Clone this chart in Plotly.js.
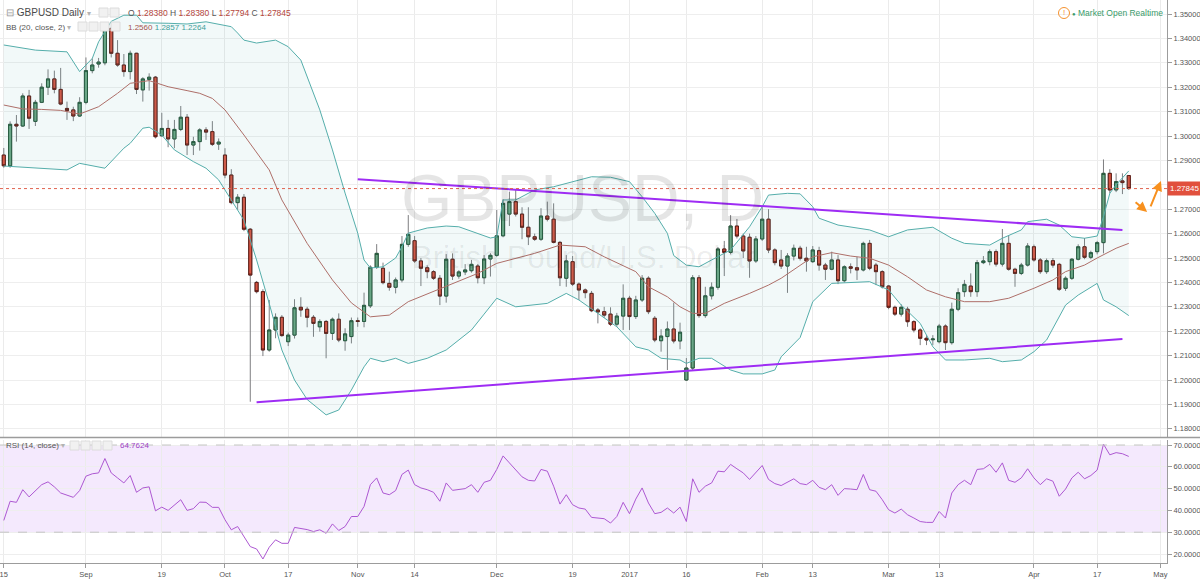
<!DOCTYPE html>
<html><head><meta charset="utf-8">
<script src="https://cdn.plot.ly/plotly-3.0.1.min.js"></script>
<style>html,body{margin:0;padding:0;background:#fff;overflow:hidden}#chart{width:1200px;height:580px}</style>
</head><body><div id="chart"></div>
<script>
// ---------- DATA ----------
const open = [
1.2922,1.2878,1.3048,1.3041,1.3164,1.3060,1.3138,1.3200,1.3234,1.3191,
1.3113,1.3107,1.3082,1.3138,1.3268,1.3295,1.3300,1.3441,1.3339,1.3291,
1.3264,1.3339,1.3189,1.3232,1.3241,1.3001,1.3031,1.2988,1.3027,1.3077,
1.2963,1.2977,1.3025,1.3018,1.2967,1.2922,1.2840,1.2727,1.2749,1.2618,
1.2400,1.2362,1.2123,1.2205,1.2257,1.2157,1.2184,1.2298,1.2290,1.2257,
1.2218,1.2240,1.2191,1.2249,1.2161,1.2178,1.2243,1.2240,1.2304,1.2462,
1.2458,1.2396,1.2380,1.2410,1.2556,1.2571,1.2488,1.2460,1.2444,1.2417,
1.2344,1.2495,1.2426,1.2443,1.2448,1.2467,1.2419,1.2496,1.2511,1.2591,
1.2680,1.2731,1.2680,1.2626,1.2587,1.2577,1.2672,1.2659,1.2564,1.2417,
1.2485,1.2393,1.2369,1.2355,1.2287,1.2280,1.2270,1.2229,1.2262,1.2335,
1.2260,1.2328,1.2417,1.2253,1.2161,1.2178,1.2209,1.2160,1.2000,1.2049,
1.2419,1.2264,1.2345,1.2380,1.2537,1.2523,1.2631,1.2590,1.2585,1.2488,
1.2578,1.2659,1.2533,1.2492,1.2467,1.2508,1.2540,1.2499,1.2485,1.2530,
1.2471,1.2454,1.2492,1.2407,1.2464,1.2460,1.2451,1.2560,1.2471,1.2444,
1.2385,1.2298,1.2270,1.2290,1.2239,1.2205,1.2171,1.2165,1.2157,1.2221,
1.2153,1.2290,1.2362,1.2385,1.2362,1.2481,1.2485,1.2526,1.2475,1.2560,
1.2454,1.2437,1.2471,1.2546,1.2492,1.2444,1.2489,1.2474,1.2376,1.2417,
1.2495,1.2546,1.2503,1.2526,1.2563,1.2847,1.2779,1.2816,1.28380];
const high = [
1.2951,1.3060,1.3086,1.3175,1.3189,1.3148,1.3216,1.3273,1.3268,1.3279,
1.3141,1.3120,1.3159,1.3322,1.3318,1.3320,1.3450,1.3445,1.3393,1.3336,
1.3350,1.3341,1.3241,1.3257,1.3246,1.3095,1.3066,1.3066,1.3123,1.3090,
1.2997,1.3032,1.3036,1.3061,1.2990,1.2950,1.2864,1.2762,1.2762,1.2623,
1.2406,1.2372,1.2328,1.2273,1.2266,1.2194,1.2331,1.2339,1.2300,1.2266,
1.2249,1.2246,1.2256,1.2273,1.2212,1.2256,1.2256,1.2358,1.2470,1.2557,
1.2481,1.2444,1.2420,1.2590,1.2676,1.2590,1.2500,1.2470,1.2450,1.2430,
1.2516,1.2519,1.2450,1.2475,1.2492,1.2475,1.2512,1.2520,1.2697,1.2741,
1.2772,1.2779,1.2708,1.2708,1.2600,1.2704,1.2731,1.2724,1.2570,1.2512,
1.2508,1.2400,1.2375,1.2365,1.2295,1.2300,1.2298,1.2275,1.2392,1.2345,
1.2345,1.2430,1.2425,1.2262,1.2208,1.2240,1.2317,1.2235,1.2090,1.2430,
1.2430,1.2382,1.2400,1.2545,1.2570,1.2676,1.2660,1.2600,1.2600,1.2590,
1.2708,1.2700,1.2540,1.2533,1.2520,1.2555,1.2550,1.2546,1.2549,1.2546,
1.2480,1.2526,1.2512,1.2470,1.2478,1.2505,1.2567,1.2574,1.2480,1.2450,
1.2389,1.2305,1.2310,1.2300,1.2245,1.2212,1.2184,1.2184,1.2230,1.2228,
1.2317,1.2376,1.2410,1.2437,1.2492,1.2508,1.2535,1.2535,1.2619,1.2594,
1.2460,1.2480,1.2561,1.2555,1.2500,1.2498,1.2500,1.2480,1.2425,1.2500,
1.2556,1.2582,1.2530,1.2570,1.2904,1.2864,1.2847,1.2847,1.28380];
const low = [
1.2870,1.2870,1.2977,1.3037,1.3029,1.3041,1.3135,1.3168,1.3175,1.3126,
1.3066,1.3061,1.3078,1.3130,1.3257,1.3280,1.3290,1.3322,1.3284,1.3243,
1.3232,1.3172,1.3141,1.3186,1.2990,1.2997,1.2954,1.2950,1.3020,1.2922,
1.2922,1.2940,1.2984,1.2959,1.2943,1.2827,1.2720,1.2697,1.2610,1.1911,
1.2355,1.2098,1.2116,1.2171,1.2177,1.2139,1.2170,1.2259,1.2216,1.2177,
1.2198,1.2089,1.2164,1.2155,1.2120,1.2150,1.2218,1.2216,1.2295,1.2455,
1.2392,1.2366,1.2355,1.2400,1.2546,1.2480,1.2385,1.2417,1.2410,1.2307,
1.2317,1.2410,1.2415,1.2430,1.2440,1.2396,1.2393,1.2424,1.2505,1.2585,
1.2631,1.2670,1.2577,1.2553,1.2570,1.2570,1.2650,1.2560,1.2385,1.2382,
1.2385,1.2328,1.2335,1.2278,1.2232,1.2255,1.2221,1.2218,1.2205,1.2205,
1.2250,1.2320,1.2270,1.2155,1.2116,1.2041,1.2150,1.2126,1.1996,1.2040,
1.2255,1.2255,1.2330,1.2370,1.2426,1.2515,1.2580,1.2500,1.2419,1.2480,
1.2570,1.2520,1.2470,1.2455,1.2357,1.2490,1.2490,1.2444,1.2480,1.2448,
1.2410,1.2450,1.2393,1.2400,1.2437,1.2410,1.2445,1.2450,1.2389,1.2375,
1.2290,1.2262,1.2260,1.2218,1.2195,1.2143,1.2143,1.2143,1.2150,1.2123,
1.2145,1.2282,1.2341,1.2341,1.2341,1.2475,1.2470,1.2465,1.2465,1.2448,
1.2382,1.2430,1.2465,1.2485,1.2435,1.2435,1.2460,1.2365,1.2365,1.2410,
1.2490,1.2495,1.2495,1.2515,1.2519,1.2765,1.2770,1.2762,1.27794];
const close = [
1.2878,1.3048,1.3041,1.3164,1.3073,1.3138,1.3200,1.3234,1.3191,1.3131,
1.3104,1.3082,1.3138,1.3268,1.3291,1.3303,1.3441,1.3339,1.3291,1.3264,
1.3339,1.3191,1.3234,1.3241,1.2997,1.3031,1.2988,1.3027,1.3077,1.2963,
1.2977,1.3025,1.3016,1.2966,1.2975,1.2840,1.2727,1.2749,1.2618,1.2430,
1.2362,1.2123,1.2205,1.2257,1.2182,1.2184,1.2296,1.2287,1.2257,1.2232,
1.2240,1.2191,1.2249,1.2164,1.2189,1.2243,1.2240,1.2306,1.2462,1.2519,
1.2399,1.2380,1.2410,1.2556,1.2597,1.2488,1.2458,1.2444,1.2417,1.2344,
1.2495,1.2426,1.2443,1.2451,1.2474,1.2419,1.2496,1.2511,1.2591,1.2724,
1.2731,1.2680,1.2626,1.2587,1.2577,1.2672,1.2659,1.2564,1.2419,1.2488,
1.2393,1.2369,1.2358,1.2284,1.2279,1.2266,1.2229,1.2262,1.2335,1.2260,
1.2328,1.2417,1.2280,1.2164,1.2180,1.2209,1.2160,1.2196,1.2049,1.2419,
1.2264,1.2345,1.2380,1.2537,1.2523,1.2631,1.2590,1.2529,1.2488,1.2578,
1.2659,1.2533,1.2481,1.2467,1.2508,1.2540,1.2499,1.2488,1.2533,1.2471,
1.2454,1.2492,1.2407,1.2464,1.2458,1.2451,1.2560,1.2458,1.2444,1.2382,
1.2298,1.2270,1.2298,1.2239,1.2205,1.2171,1.2164,1.2168,1.2221,1.2153,
1.2290,1.2358,1.2392,1.2362,1.2481,1.2488,1.2526,1.2475,1.2560,1.2454,
1.2437,1.2471,1.2549,1.2492,1.2444,1.2489,1.2471,1.2372,1.2417,1.2495,
1.2546,1.2503,1.2522,1.2563,1.2847,1.2779,1.2813,1.2809,1.27845];

// Bollinger Bands (20, close, 2), read at bar numbers
const bbBasisBars = [0,3,6,9,12,15,18,20,23,26,29,31,33,35,38,40,42,44,48,52,55,58,61,64,68,71,75,78,84,88,92,95,100,102,105,107,109,111,114,118,121,123,126,128,131,134,137,140,143,146,149,152,156,159,163,166,168,171,173,176,178];
const bbBasisVals = [1.3127,1.3111,1.3109,1.3105,1.3090,1.3120,1.3175,1.3216,1.3227,1.3202,1.3186,1.3175,1.3154,1.3107,1.3004,1.2930,1.2861,1.2738,1.2560,1.2410,1.2316,1.2259,1.2266,1.2321,1.2362,1.2396,1.2437,1.2478,1.2519,1.2553,1.2546,1.2505,1.2444,1.2382,1.2341,1.2300,1.2273,1.2273,1.2314,1.2355,1.2389,1.2417,1.2471,1.2505,1.2522,1.2508,1.2499,1.2471,1.2423,1.2369,1.2341,1.2321,1.2321,1.2335,1.2376,1.2410,1.2444,1.2471,1.2500,1.2540,1.2560];
const bbUpperBars = [0,5,10,12,14,15,17,19,21,22,26,29,32,36,37,38,40,43,45,47,50,52,54,56,57,58,60,62,63,64,67,70,72,75,77,78,79,81,84,87,89,93,96,99,101,103,105,106,108,110,112,115,118,119,120,121,124,126,128,129,132,137,140,143,147,150,152,156,158,161,162,165,167,169,171,173,174,175,176,178];
const bbUpperVals = [1.3373,1.3352,1.3345,1.3264,1.3318,1.3386,1.3470,1.3495,1.3495,1.3464,1.3462,1.3459,1.3468,1.3448,1.3422,1.3393,1.3381,1.3393,1.3366,1.3311,1.3107,1.2943,1.2766,1.2602,1.2492,1.2459,1.2464,1.2500,1.2546,1.2602,1.2623,1.2631,1.2628,1.2602,1.2582,1.2587,1.2738,1.2738,1.2779,1.2792,1.2806,1.2833,1.2831,1.2813,1.2751,1.2683,1.2601,1.2510,1.2471,1.2464,1.2492,1.2533,1.2628,1.2670,1.2710,1.2758,1.2765,1.2763,1.2710,1.2663,1.2635,1.2615,1.2587,1.2615,1.2626,1.2581,1.2560,1.2553,1.2581,1.2615,1.2649,1.2659,1.2635,1.2587,1.2581,1.2590,1.2669,1.2765,1.2800,1.2857];
const bbLowerBars = [0,5,10,12,16,19,20,22,23,25,27,30,32,34,36,38,40,42,44,46,48,51,53,55,57,58,60,62,64,67,70,72,74,76,78,81,84,86,89,91,94,97,100,102,104,107,108,110,112,115,117,120,122,123,126,128,131,137,140,142,145,147,149,152,156,158,161,163,165,168,170,173,174,176,178];
const bbLowerVals = [1.2877,1.2868,1.2861,1.2888,1.2868,1.2950,1.2970,1.3032,1.3036,1.3004,1.2943,1.2895,1.2868,1.2820,1.2738,1.2655,1.2492,1.2314,1.2123,1.2000,1.1920,1.1857,1.1877,1.1959,1.2054,1.2089,1.2075,1.2089,1.2068,1.2089,1.2123,1.2164,1.2205,1.2270,1.2335,1.2300,1.2307,1.2314,1.2355,1.2328,1.2273,1.2218,1.2136,1.2123,1.2089,1.2082,1.2068,1.2089,1.2089,1.2041,1.2025,1.2025,1.2041,1.2095,1.2174,1.2321,1.2396,1.2403,1.2369,1.2307,1.2232,1.2136,1.2082,1.2082,1.2089,1.2075,1.2082,1.2116,1.2164,1.2307,1.2348,1.2396,1.2328,1.2300,1.2264];

// RSI (14, close), one value per bar (null where unread)
const rsi = [
35.4,44.2,43.7,49.5,46.2,null,51.8,53.1,50.8,48.0,
null,46.0,49.1,55.7,56.8,57.2,63.8,57.2,54.9,52.6,
56.0,48.3,50.3,50.8,39.8,41.5,40.0,null,44.9,40.0,
40.8,43.8,43.7,41.4,41.4,35.7,31.1,32.6,28.0,23.4,
22.3,17.7,23.1,26.5,24.9,24.9,32.2,31.8,31.2,30.3,
31.1,29.5,33.8,30.8,32.6,37.2,37.2,41.8,51.8,54.9,
48.0,47.2,49.1,56.5,58.5,51.8,50.3,49.5,48.3,44.2,
52.6,49.2,49.5,50.0,51.8,48.3,52.9,53.8,58.8,65.0,
61.8,58.8,55.4,53.8,53.5,58.8,58.0,51.1,42.9,47.2,
42.6,41.1,40.6,36.8,36.6,36.2,34.2,37.2,43.7,38.5,
45.2,50.3,43.4,38.5,39.1,41.1,38.8,41.5,34.9,54.5,
48.3,51.1,52.6,58.0,57.7,61.1,59.1,57.2,54.2,57.5,
60.6,54.2,52.3,51.4,52.9,54.5,52.3,51.8,53.8,50.6,
49.5,51.8,46.9,50.0,49.8,49.5,56.5,49.5,48.8,44.9,
40.3,38.8,40.6,38.0,36.5,34.9,34.5,34.5,39.5,36.5,
48.0,51.8,53.8,51.8,58.8,59.1,61.1,57.5,61.8,53.8,
52.9,54.9,59.1,54.9,51.8,54.5,53.4,46.5,49.8,54.9,
57.5,54.5,56.0,58.5,70.4,65.5,66.5,66.0,64.7624];

// Hand-drawn trend lines and arrows (bar number, price)
const trendUpperBars = [56, 177], trendUpperPrices = [1.2823, 1.2615];
const trendLowerBars = [40, 177], trendLowerPrices = [1.1909, 1.2168];
const arrowBars = [180.9, 183.1], arrowPrices = [1.2689, 1.2816];

// axis labels
const tickDates = ['2016-08-15','2016-09-01','2016-09-19','2016-10-03','2016-10-17','2016-11-01','2016-11-14','2016-12-01','2016-12-19','2017-01-03','2017-01-16','2017-02-01','2017-02-13','2017-03-01','2017-03-13','2017-04-03','2017-04-17','2017-05-01'];
const tickText = ['15','Sep','19','Oct','17','Nov','14','Dec','19','2017','16','Feb','13','Mar','13','Apr','17','May'];
const priceTicks = [1.18,1.19,1.20,1.21,1.22,1.23,1.24,1.25,1.26,1.27,1.28,1.29,1.30,1.31,1.32,1.33,1.34,1.35];
const rsiTicks = [20, 30, 40, 50, 60, 70];

// ---------- BUILD ----------
function tradingDays(start, end, holidays) {
  const out = []; const d = new Date(start + 'T00:00:00Z'); const e = new Date(end + 'T00:00:00Z');
  while (d <= e) {
    const w = d.getUTCDay(); const s = d.toISOString().slice(0, 10);
    if (w !== 0 && w !== 6 && !holidays.includes(s)) out.push(s);
    d.setUTCDate(d.getUTCDate() + 1);
  }
  return out;
}
const dates = tradingDays('2016-08-15', '2017-05-05', ['2016-12-26', '2017-01-02']);
const bars = close.map((_, i) => i);
const tickvals = tickDates.map(d => dates.indexOf(d));
const bodyHigh = open.map((o, i) => Math.max(o, close[i]));
const bodyLow = open.map((o, i) => Math.min(o, close[i]));
const last = close.length - 1;
// the last-price tag covers the axis label next to it
const priceText = priceTicks.map(v => Math.abs(v - close[last]) < 0.004 ? '' : v.toFixed(5));

const FONT = 'Liberation Sans, Arial, sans-serif';
const PW = 1167, PH = 563;
const px = v => v / PW, py = v => (PH - v) / PH;

const UPF = '#6ba583', DNF = '#d75442';
const traces = [
  { type: 'candlestick', x: bars, open: open, high: high, low: low, close: close,
    increasing: { line: { color: '#7e7e80', width: 1 }, fillcolor: UPF },
    decreasing: { line: { color: '#7e7e80', width: 1 }, fillcolor: DNF },
    whiskerwidth: 0, hoverinfo: 'skip', showlegend: false },
  { type: 'candlestick', x: bars, open: open, high: bodyHigh, low: bodyLow, close: close,
    increasing: { line: { color: '#225437', width: 1 }, fillcolor: UPF },
    decreasing: { line: { color: '#5b1a13', width: 1 }, fillcolor: DNF },
    whiskerwidth: 0, hoverinfo: 'skip', showlegend: false },
  { type: 'scatter', mode: 'lines', x: bbLowerBars, y: bbLowerVals, line: { color: '#55aeab', width: 1 }, hoverinfo: 'skip', showlegend: false },
  { type: 'scatter', mode: 'lines', x: bbUpperBars, y: bbUpperVals, line: { color: '#55aeab', width: 1 }, fill: 'tonexty', fillcolor: 'rgba(86,176,173,0.08)', hoverinfo: 'skip', showlegend: false },
  { type: 'scatter', mode: 'lines', x: bbBasisBars, y: bbBasisVals, line: { color: '#ae6f69', width: 1 }, hoverinfo: 'skip', showlegend: false },
  { type: 'scatter', mode: 'lines', x: trendUpperBars, y: trendUpperPrices, line: { color: '#9e2cf4', width: 2 }, hoverinfo: 'skip', showlegend: false },
  { type: 'scatter', mode: 'lines', x: trendLowerBars, y: trendLowerPrices, line: { color: '#9e2cf4', width: 2 }, hoverinfo: 'skip', showlegend: false },
  { type: 'scatter', mode: 'lines', x: bars, y: rsi, xaxis: 'x', yaxis: 'y2', connectgaps: true, line: { color: '#ad58d2', width: 1 }, hoverinfo: 'skip', showlegend: false }
];

const iconBox = (x0, y0) => ({ type: 'rect', xref: 'paper', yref: 'paper', x0: px(x0), x1: px(x0 + 9), y0: py(y0 + 9), y1: py(y0), fillcolor: '#f1f1f1', line: { color: '#dcdcdc', width: 1 }, layer: 'above' });

const shapes = [
  { type: 'rect', xref: 'paper', yref: 'y2', x0: 0, x1: 1, y0: 30, y1: 70, fillcolor: 'rgba(150,40,240,0.10)', line: { width: 0 }, layer: 'below' },
  { type: 'line', xref: 'paper', yref: 'y2', x0: 0, x1: 1, y0: 70, y1: 70, line: { color: '#c4c4c4', width: 1, dash: 'dash' } },
  { type: 'line', xref: 'paper', yref: 'y2', x0: 0, x1: 1, y0: 30, y1: 30, line: { color: '#c4c4c4', width: 1, dash: 'dash' } },
  { type: 'line', xref: 'paper', yref: 'y', x0: 0, x1: 1, y0: close[last], y1: close[last], line: { color: '#e0624f', width: 1, dash: 'dot' } },
  { type: 'line', xref: 'paper', yref: 'paper', x0: 0, x1: 1200 / PW, y0: py(437.5), y1: py(437.5), line: { color: '#9c9c9c', width: 1.5 } },
  { type: 'circle', xref: 'paper', yref: 'paper', x0: px(1058.5), x1: px(1069.5), y0: py(18.5), y1: py(7.5), line: { color: '#f5922f', width: 1 } },
  iconBox(99, 8), iconBox(110, 8),
  iconBox(78, 22), iconBox(89, 22), iconBox(100, 22), iconBox(111, 22),
  iconBox(70, 441), iconBox(81, 441), iconBox(92, 441), iconBox(103, 441)
];

const val = (t) => '<span style="color:#b4463c">' + t + '</span>';
const ann = (x, y, text, size, color, extra) => Object.assign({ xref: 'paper', yref: 'paper', x: px(x), y: py(y), xanchor: 'left', yanchor: 'middle', text: text, showarrow: false, font: { family: FONT, size: size, color: color } }, extra || {});

const annotations = [
  { xref: 'paper', yref: 'paper', x: px(582), y: py(198), xanchor: 'center', yanchor: 'middle', text: 'GBPUSD, D', showarrow: false, font: { family: FONT, size: 66, color: 'rgba(0,0,0,0.10)' } },
  { xref: 'paper', yref: 'paper', x: px(583), y: py(257), xanchor: 'center', yanchor: 'middle', text: 'British Pound/U.S. Dollar', showarrow: false, font: { family: FONT, size: 31, color: 'rgba(0,0,0,0.08)' } },
  ann(4, 13, '<span style="color:#9a9a9a">⊟</span> GBPUSD Daily <span style="color:#b3b3b3;font-size:8px">▾</span>', 10, '#4a4a4a'),
  ann(126, 13, 'O ' + val(open[last].toFixed(5)) + ' H ' + val(high[last].toFixed(5)) + ' L ' + val(low[last].toFixed(5)) + ' C ' + val(close[last].toFixed(5)), 8.5, '#555'),
  ann(4, 27, 'BB (20, close, 2) <span style="color:#b3b3b3">▾</span>', 8, '#555'),
  ann(126, 27, '<span style="color:#a4544d">' + bbBasisVals[bbBasisVals.length - 1].toFixed(4) + '</span> <span style="color:#3e9e9a">' + bbUpperVals[bbUpperVals.length - 1].toFixed(4) + '</span> <span style="color:#3e9e9a">' + bbLowerVals[bbLowerVals.length - 1].toFixed(4) + '</span>', 8, '#555'),
  ann(4, 446, 'RSI (14, close) <span style="color:#b3b3b3">▾</span>', 8, '#555'),
  ann(118, 446, rsi[last].toFixed(4), 8, '#9c3fc4'),
  { xref: 'paper', yref: 'paper', x: px(1064), y: py(13), xanchor: 'center', yanchor: 'middle', text: '!', showarrow: false, font: { family: FONT, size: 8, color: '#f5922f' } },
  ann(1070, 13, '<span style="font-size:6px">●</span> Market Open Realtime', 8.5, '#3a9b6b'),
  { xref: 'paper', yref: 'y', x: 1, y: close[last], xanchor: 'left', yanchor: 'middle', text: close[last].toFixed(5), showarrow: false, bgcolor: '#e1503d', borderpad: 2, font: { family: FONT, size: 8, color: '#ffffff' } },
  { xref: 'x', yref: 'y', x: arrowBars[0], y: arrowPrices[0], ax: -13, ay: -11, text: '', showarrow: true, arrowhead: 2, arrowsize: 1, arrowwidth: 2, arrowcolor: '#f7901e', standoff: 0 },
  { xref: 'x', yref: 'y', x: arrowBars[1], y: arrowPrices[1], ax: -11, ay: 27, text: '', showarrow: true, arrowhead: 2, arrowsize: 1, arrowwidth: 2, arrowcolor: '#f7901e', standoff: 0 }
];

const axisCommon = { showgrid: true, ticks: 'outside', ticklen: 4, tickcolor: '#9c9c9c', showline: true, linecolor: '#9c9c9c', linewidth: 1, zeroline: false, fixedrange: true, ticklabeloverflow: 'allow' };

const layout = {
  width: 1200, height: 580,
  margin: { l: 0, r: 33, t: 0, b: 17 },
  paper_bgcolor: '#ffffff', plot_bgcolor: '#ffffff',
  showlegend: false, hovermode: false, dragmode: false,
  font: { family: FONT, size: 8, color: '#555' },
  xaxis: Object.assign({}, axisCommon, {
    type: 'linear', range: [-0.6, 184.05], anchor: 'y2',
    tickmode: 'array', tickvals: tickvals, ticktext: tickText,
    gridcolor: '#ebebeb', tickfont: { family: FONT, size: 7.5, color: '#555' },
    rangeslider: { visible: false }
  }),
  yaxis: Object.assign({}, axisCommon, {
    domain: [(PH - 437) / PH, 1], range: [1.17664, 1.35574], side: 'right', anchor: 'x',
    tickmode: 'array', tickvals: priceTicks, ticktext: priceText, gridcolor: '#eeeeee',
    tickfont: { family: FONT, size: 7.5, color: '#555' }
  }),
  yaxis2: Object.assign({}, axisCommon, {
    domain: [0, (PH - 440) / PH], range: [15.87, 72.3], side: 'right', anchor: 'x',
    tickmode: 'array', tickvals: rsiTicks, ticktext: rsiTicks.map(v => v.toFixed(4)), gridcolor: '#eeeeee',
    tickfont: { family: FONT, size: 7.5, color: '#555' }
  }),
  shapes: shapes,
  annotations: annotations
};

Plotly.newPlot('chart', traces, layout, { staticPlot: true, displayModeBar: false });
</script>
</body></html>
